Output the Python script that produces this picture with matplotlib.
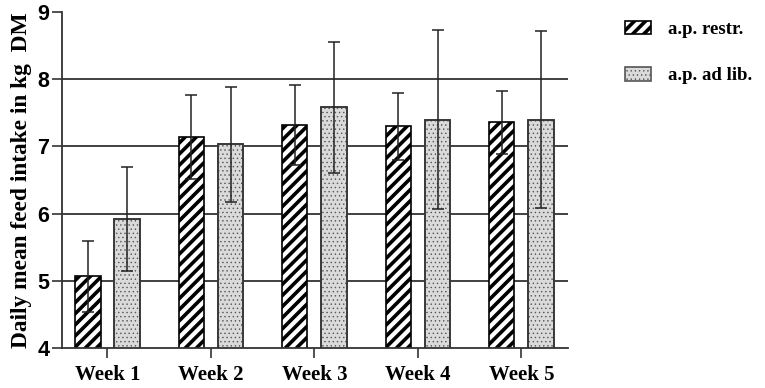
import numpy as np
import matplotlib as mpl
import matplotlib.pyplot as plt

weeks = ['Week 1', 'Week 2', 'Week 3', 'Week 4', 'Week 5']
restr_mean = [5.07, 7.14, 7.32, 7.30, 7.36]
restr_sd = [0.53, 0.63, 0.59, 0.50, 0.47]
adlib_mean = [5.92, 7.03, 7.58, 7.40, 7.40]
adlib_sd = [0.78, 0.85, 0.98, 1.33, 1.32]

fig = plt.figure(figsize=(7.65, 3.88), dpi=100)
ax = fig.add_axes([0.081, 0.103, 0.6615, 0.866])

x = np.arange(len(weeks))
w = 0.245
off = 0.19

for yv in [5, 6, 7, 8]:
    ax.axhline(yv, color='#333333', lw=1.3, zorder=0)

with mpl.rc_context({'hatch.linewidth': 2.6}):
    ax.bar(x - off, restr_mean, w, color='white', edgecolor='black',
           hatch='///', lw=1.2, zorder=2, label='a.p. restr.')
with mpl.rc_context({'hatch.linewidth': 0.5}):
    ax.bar(x + off, adlib_mean, w, color='#dadada', edgecolor='#555555',
           hatch='....', lw=1.2, zorder=2, label='a.p. ad lib.')
ax.bar(x + off, adlib_mean, w, fill=False, edgecolor='#333333', lw=1.2, zorder=2)

ax.errorbar(x - off, restr_mean, yerr=restr_sd, fmt='none', ecolor='#222222',
            elinewidth=1.1, capsize=4.5, capthick=1.1, zorder=3)
ax.errorbar(x + off, adlib_mean, yerr=adlib_sd, fmt='none', ecolor='#222222',
            elinewidth=1.1, capsize=4.5, capthick=1.1, zorder=3)

ax.set_ylim(4, 9)
ax.set_xlim(-0.44, 4.45)
ax.set_yticks([4, 5, 6, 7, 8, 9])
ax.set_xticks(x)
ax.set_xticklabels(weeks, fontfamily='Liberation Serif', fontweight='bold', fontsize=15)
for lab in ax.get_yticklabels():
    lab.set_fontfamily('Liberation Sans')
    lab.set_fontweight('bold')
    lab.set_fontsize(15.5)
ax.tick_params(axis='both', direction='out', length=7, width=1.2, color='#333333')
ax.tick_params(axis='x', pad=5)
ax.tick_params(axis='y', pad=2)
ax.spines['top'].set_visible(False)
ax.spines['right'].set_visible(False)
for s in ['left', 'bottom']:
    ax.spines[s].set_linewidth(1.3)
    ax.spines[s].set_color('#333333')

ax.set_ylabel('Daily mean feed intake in kg  DM', fontfamily='Liberation Serif',
              fontweight='bold', fontsize=16.8, labelpad=4)

leg = ax.legend(loc='upper left', bbox_to_anchor=(1.08, 1.025), frameon=False,
                prop={'family': 'Liberation Serif', 'weight': 'bold', 'size': 13.5},
                labelspacing=1.55, handlelength=1.35, handleheight=0.75,
                handletextpad=0.95)
# legend handles: thick stripes / fine dots like the bars
handles = leg.legend_handles
handles[0]._hatch_linewidth = 2.6
handles[1]._hatch_linewidth = 0.5

fig.savefig('out.png', dpi=100)
